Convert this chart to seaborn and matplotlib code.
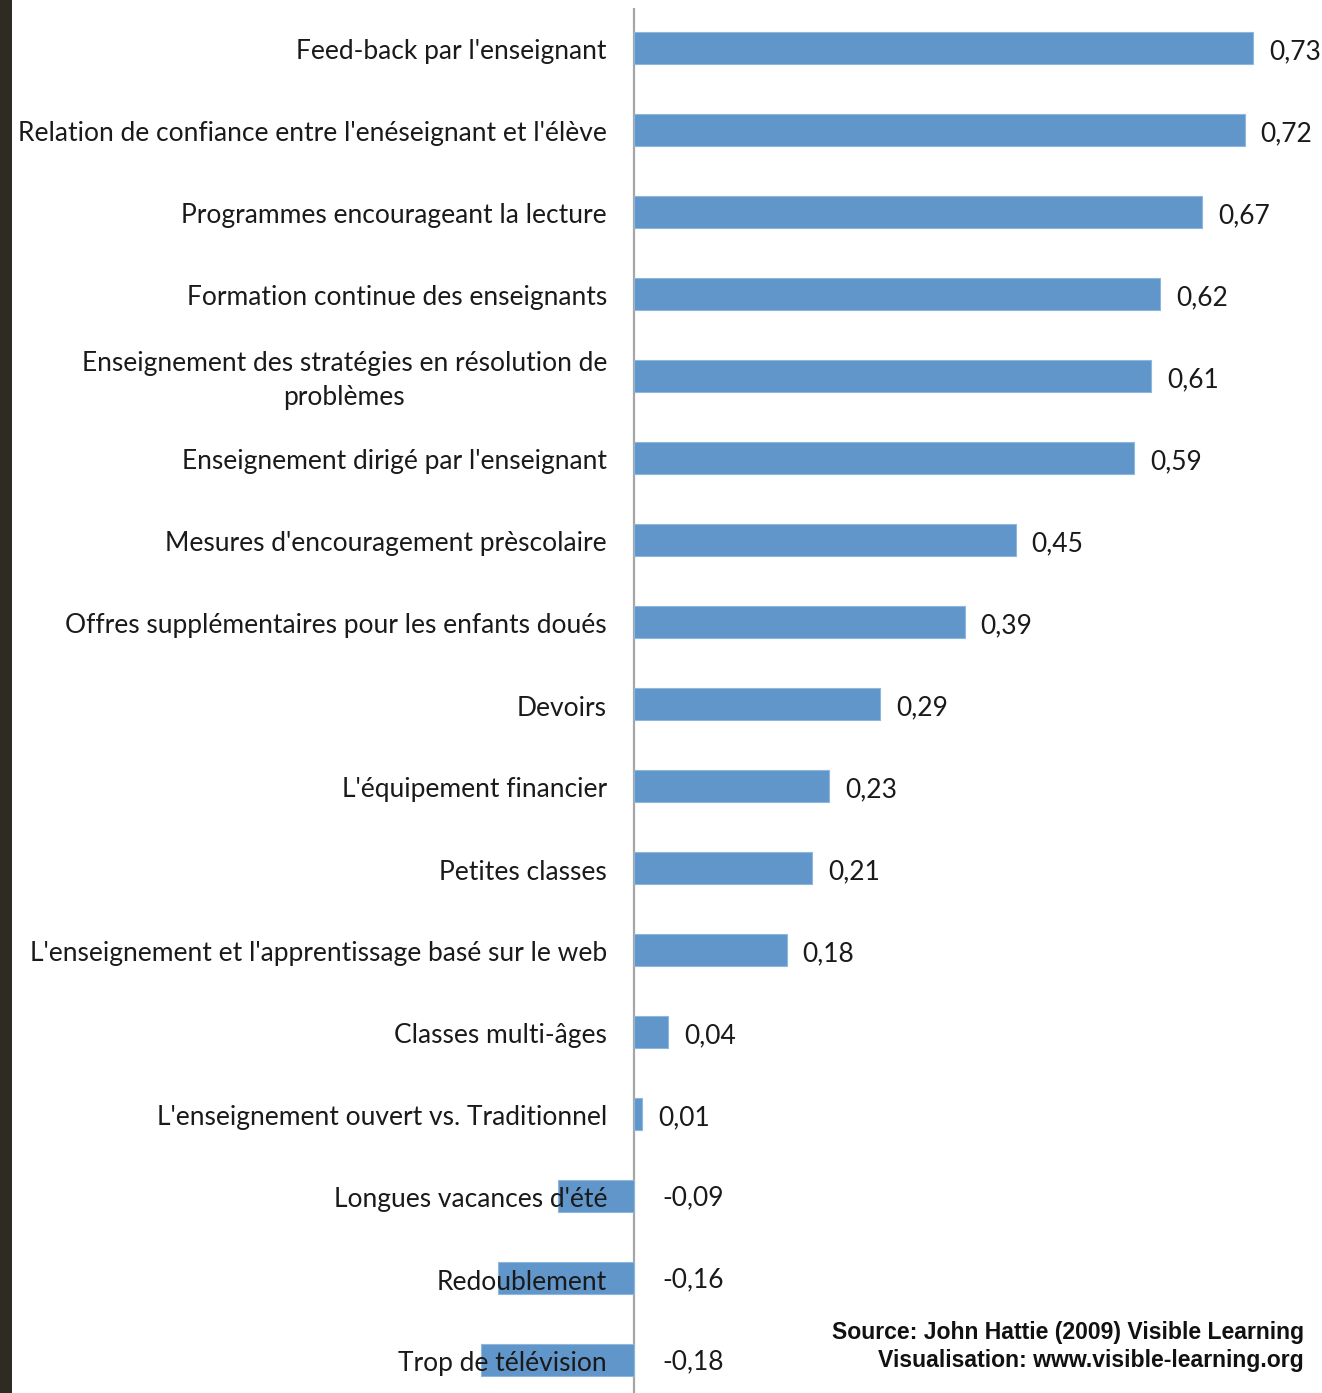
import matplotlib
matplotlib.use("Agg")
import matplotlib.pyplot as plt
import seaborn as sns
import pandas as pd
from matplotlib.patches import Rectangle

categories = [
    "Feed-back par l'enseignant",
    "Relation de confiance entre l'enéseignant et l'élève",
    "Programmes encourageant la lecture",
    "Formation continue des enseignants",
    "Enseignement des stratégies en résolution de\nproblèmes",
    "Enseignement dirigé par l'enseignant",
    "Mesures d'encouragement prèscolaire",
    "Offres supplémentaires pour les enfants doués",
    "Devoirs",
    "L'équipement financier",
    "Petites classes",
    "L'enseignement et l'apprentissage basé sur le web",
    "Classes multi-âges",
    "L'enseignement ouvert vs. Traditionnel",
    "Longues vacances d'été",
    "Redoublement",
    "Trop de télévision",
]
values = [0.73, 0.72, 0.67, 0.62, 0.61, 0.59, 0.45, 0.39, 0.29, 0.23, 0.21,
          0.18, 0.04, 0.01, -0.09, -0.16, -0.18]
source_lines = ["Source: John Hattie (2009) Visible Learning",
                "Visualisation: www.visible-learning.org"]

df = pd.DataFrame({"cat": categories, "val": values})

sns.set_theme(style="white")
plt.rcParams["font.family"] = ["Lato", "DejaVu Sans"]

W, H = 1322, 1393
fig = plt.figure(figsize=(W / 100, H / 100), dpi=100)
fig.patch.set_facecolor("white")
# dark strip at the left edge
fig.patches.append(Rectangle((0, 0), 12 / W, 1, transform=fig.transFigure,
                             facecolor="#2e2b22", edgecolor="none", zorder=0))

ax = fig.add_axes([12 / W, 0, 1 - 12 / W, 1 - 8 / H])
ax.set_facecolor("none")

sns.barplot(data=df, x="val", y="cat", orient="h", color="#6096C9",
            saturation=1, width=0.39, ax=ax, edgecolor="#8fb6dc", linewidth=0.8)

px_per_unit = 848.0
zero_px = 634 - 12
axw = W - 12
ax.set_xlim(-zero_px / px_per_unit, (axw - zero_px) / px_per_unit)
ax.set_ylim(16 + (1393 - 1360) / 82, -40 / 82)

for s in ["top", "right", "bottom", "left"]:
    ax.spines[s].set_visible(False)
ax.axvline(0, color="#a6a6a6", lw=1.6, zorder=0.5)

ax.set_xlabel("")
ax.set_ylabel("")
ax.set_xticks([])
ax.tick_params(axis="y", length=0, pad=0)
ax.set_yticklabels([])

FS = 19
for i, (c, v) in enumerate(zip(categories, values)):
    ax.annotate(c, xy=(0, i), xytext=(-27, -4), textcoords="offset pixels",
                ha="right", va="center", fontsize=FS, color="#1a1a1a",
                multialignment="center", linespacing=1.45, zorder=5)
    lab = f"{v:.2f}".replace(".", ",")
    if v >= 0:
        ax.annotate(lab, xy=(v, i), xytext=(16, -4), textcoords="offset pixels",
                    ha="left", va="center", fontsize=FS, color="#1a1a1a")
    else:
        ax.annotate(lab, xy=(0, i), xytext=(28, -2), textcoords="offset pixels",
                    ha="left", va="center", fontsize=FS, color="#1a1a1a")

for k, yy in enumerate([1332, 1361]):
    fig.text(1304 / W, 1 - yy / H, source_lines[k], ha="right", va="center",
             fontsize=16.6, fontweight="bold", color="#111111",
             family=["Liberation Sans", "DejaVu Sans"])

fig.savefig("out.png", dpi=100, facecolor="white")
